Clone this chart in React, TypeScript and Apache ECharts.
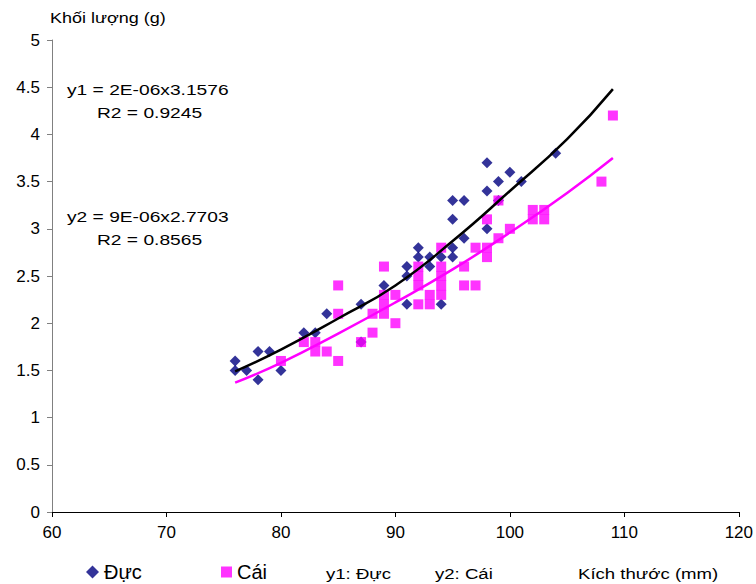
import React, { useEffect, useRef } from "react";
import * as echarts from "echarts";

// Scatter data: [size (mm), weight (g)]
const ducX = [76, 76, 77, 78, 78, 79, 80, 82, 83, 84, 87, 87, 89, 91, 91, 91, 92, 92, 93, 93, 94, 94, 95, 95, 95, 95, 96, 96, 98, 98, 98, 99, 99, 100, 101, 104];
const ducY = [1.6, 1.5, 1.5, 1.7, 1.4, 1.7, 1.5, 1.9, 1.9, 2.1, 2.2, 1.8, 2.4, 2.6, 2.5, 2.2, 2.8, 2.7, 2.7, 2.6, 2.7, 2.2, 3.3, 3.1, 2.8, 2.7, 3.3, 2.9, 3.7, 3.4, 3.0, 3.5, 3.3, 3.6, 3.5, 3.8];

const caiX = [80, 82, 83, 83, 84, 85, 85, 85, 87, 88, 88, 89, 89, 89, 89, 90, 90, 92, 92, 92, 92, 93, 93, 94, 94, 94, 94, 94, 96, 96, 97, 97, 98, 98, 98, 99, 99, 100, 102, 102, 103, 103, 108, 109];
const caiY = [1.6, 1.8, 1.8, 1.7, 1.7, 1.6, 2.4, 2.1, 1.8, 2.1, 1.9, 2.6, 2.3, 2.2, 2.1, 2.3, 2.0, 2.6, 2.5, 2.4, 2.2, 2.3, 2.2, 2.8, 2.6, 2.5, 2.4, 2.3, 2.6, 2.4, 2.4, 2.8, 2.8, 2.7, 3.1, 2.9, 3.3, 3.0, 3.2, 3.1, 3.2, 3.1, 3.5, 4.2];

// Trend lines
const trendX = [76, 80, 85, 90, 95, 100, 105, 109];
const trend1Y = [1.49, 1.72, 2.05, 2.4, 2.87, 3.4, 3.95, 4.48];
const trend2Y = [1.37, 1.58, 1.89, 2.22, 2.57, 2.96, 3.38, 3.75];

const xTicks = [60, 70, 80, 90, 100, 110, 120];
const yTicks = [0, 0.5, 1, 1.5, 2, 2.5, 3, 3.5, 4, 4.5, 5];

const FONT = "Liberation Sans, Arial, sans-serif";

const zip = (xs: number[], ys: number[]) => xs.map((x, i) => [x, ys[i]]);

const label = (text: string, x: number, y: number, sx: number, size = 15) => ({
  type: "text",
  x,
  y,
  scaleX: sx,
  style: { text, font: `${size}px ${FONT}`, fill: "#000", textVerticalAlign: "middle", textAlign: "left" },
});

export default function App() {
  const ref = useRef<HTMLDivElement>(null);
  useEffect(() => {
    if (!ref.current) return;
    const chart = echarts.init(ref.current, null, { renderer: "svg" });
    chart.setOption({
      animation: false,
      backgroundColor: "#ffffff",
      textStyle: { fontFamily: FONT },
      grid: { left: 52, right: 15, top: 40, bottom: 72, containLabel: false },
      xAxis: {
        type: "value",
        min: xTicks[0],
        max: xTicks[xTicks.length - 1],
        interval: 10,
        axisLine: { show: true, onZero: false, lineStyle: { color: "#000000", width: 1 } },
        axisTick: { show: true, length: 5, lineStyle: { color: "#000000" } },
        axisLabel: { color: "#000000", fontSize: 17, fontFamily: FONT, margin: 12 },
        splitLine: { show: false },
      },
      yAxis: {
        type: "value",
        min: yTicks[0],
        max: yTicks[yTicks.length - 1],
        interval: 0.5,
        axisLine: { show: true, onZero: false, lineStyle: { color: "#808080", width: 1 } },
        axisTick: { show: true, length: 5, lineStyle: { color: "#808080" } },
        axisLabel: { color: "#000000", fontSize: 17, fontFamily: FONT, margin: 12 },
        splitLine: { show: false },
      },
      legend: [
        {
          data: ["Đực"],
          left: 86,
          top: 562,
          padding: 0,
          icon: "diamond",
          itemWidth: 13,
          itemHeight: 13,
          textStyle: { fontSize: 20, color: "#000", fontFamily: FONT, padding: [0, 0, 0, 0] },
          selectedMode: false,
        },
        {
          data: ["Cái"],
          left: 221,
          top: 562,
          padding: 0,
          icon: "rect",
          itemWidth: 11,
          itemHeight: 11,
          textStyle: { fontSize: 20, color: "#000", fontFamily: FONT, padding: [0, 0, 0, 0] },
          selectedMode: false,
        },
      ],
      graphic: [
        label("Khối lượng (g)", 50, 18, 1.2),
        label("y1 = 2E-06x3.1576", 67, 90, 1.28),
        label("R2 = 0.9245", 97, 113, 1.28),
        label("y2 = 9E-06x2.7703", 67, 217, 1.28),
        label("R2 = 0.8565", 97, 240, 1.28),
        label("y1: Đực", 326, 574, 1.24),
        label("y2: Cái", 435, 574, 1.24),
        label("Kích thước (mm)", 578, 574, 1.24),
      ],
      series: [
        {
          name: "Đực",
          type: "scatter",
          data: zip(ducX, ducY),
          symbol: "diamond",
          symbolSize: 11,
          itemStyle: { color: "#000080" },
          z: 2,
        },
        {
          name: "Cái",
          type: "scatter",
          data: zip(caiX, caiY),
          symbol: "rect",
          symbolSize: 10,
          itemStyle: { color: "#FF00FF" },
          z: 3,
        },
        {
          name: "y1: Đực",
          type: "line",
          data: zip(trendX, trend1Y),
          smooth: true,
          showSymbol: false,
          symbol: "none",
          lineStyle: { color: "#000000", width: 2.5 },
          z: 4,
        },
        {
          name: "y2: Cái",
          type: "line",
          data: zip(trendX, trend2Y),
          smooth: true,
          showSymbol: false,
          symbol: "none",
          lineStyle: { color: "#FF00FF", width: 2.5 },
          z: 4,
        },
      ],
    });
    return () => chart.dispose();
  }, []);
  return (
    <div
      ref={ref}
      style={{ position: "fixed", left: 0, top: 0, width: 756, height: 584, background: "#fff" }}
    />
  );
}
